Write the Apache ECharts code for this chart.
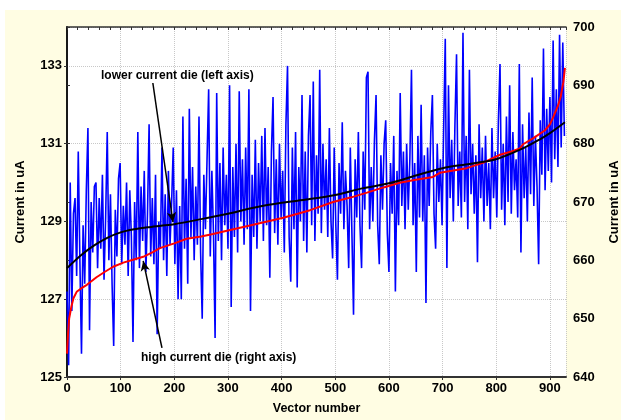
<!DOCTYPE html>
<html>
<head>
<meta charset="utf-8">
<script src="https://cdn.jsdelivr.net/npm/echarts@6/dist/echarts.min.js"></script>
<style>
  html, body { margin: 0; padding: 0; background: #fff; }
  #main { width: 621px; height: 420px; }
</style>
</head>
<body>
<div id="main"></div>
<script>
// vector number spacing of the sampled blue trace
var vectorStep = 3;
// lower current die, per vector (left axis), read every 3rd vector
var lowerDie = [
  127.2, 125.3, 130.0, 126.7, 129.2, 129.6, 127.6, 130.8, 128.0, 125.6,
  128.9, 127.4, 129.8, 131.4, 126.2, 129.5, 128.2, 129.9, 130.0, 127.8,
  129.6, 128.3, 130.2, 127.5, 129.1, 131.3, 128.0, 129.7, 127.4, 125.8,
  129.3, 128.1, 130.1, 130.5, 127.9, 129.4, 128.4, 130.0, 127.6, 129.8,
  128.6, 125.9, 129.5, 128.0, 131.3, 127.8, 129.9, 128.5, 130.3, 127.7,
  129.2, 131.5, 128.1, 129.6, 127.9, 130.2, 126.1, 129.0, 128.3, 130.9,
  128.0, 129.7, 127.6, 130.3, 128.4, 129.5, 130.9, 127.9, 129.8, 127.0,
  129.4, 127.0, 131.7, 128.3, 130.1, 127.4, 131.9, 128.6, 130.4, 128.0,
  129.9, 128.4, 131.7, 128.2, 126.5, 130.2, 128.8, 130.6, 132.4, 128.1,
  130.3, 128.7, 126.0, 132.3, 128.5, 130.5, 128.0, 130.9, 128.9, 130.2,
  128.3, 132.5, 126.8, 130.4, 128.6, 131.0, 128.2, 132.35, 129.0, 130.6,
  128.4, 130.9, 128.8, 132.4, 126.7, 130.2, 128.6, 131.1, 128.3, 130.5,
  129.0, 131.2, 128.5, 131.4, 128.9, 130.4, 127.55, 130.8, 132.2, 128.7,
  130.6, 128.4, 131.0, 129.1, 130.3, 128.2, 131.5, 133.0, 128.6, 127.45,
  130.9, 128.8, 131.3, 127.3, 130.4, 129.0, 132.25, 128.5, 130.8, 128.2,
  131.2, 132.25, 128.9, 132.6, 128.5, 130.7, 129.2, 132.9, 128.7, 131.0,
  129.3, 130.6, 128.6, 131.4, 129.0, 128.05, 130.9, 128.9, 127.5, 130.5,
  129.2, 131.55, 128.8, 130.3, 129.4, 127.8, 130.9, 128.7, 126.6, 130.6,
  129.1, 131.3, 128.9, 127.8, 130.8, 129.3, 132.7, 132.85, 128.8, 130.4,
  129.0, 131.1, 132.25, 128.9, 127.9, 130.7, 129.3, 131.0, 131.6, 128.7,
  127.7, 130.5, 129.2, 131.2, 127.2, 130.3, 128.9, 132.3, 129.4, 130.8,
  128.8, 131.0, 129.3, 130.6, 132.9, 128.9, 130.5, 127.7, 131.2, 129.1,
  132.0, 129.0, 130.7, 126.9, 130.9, 129.4, 131.3, 132.25, 129.2, 128.3,
  131.0, 129.5, 130.6, 128.9, 131.4, 133.7, 127.8, 132.5, 129.6, 131.1,
  129.0, 131.5, 133.3, 129.4, 130.8, 129.1, 133.85, 129.5, 131.2, 128.8,
  132.9, 129.7, 131.0, 129.2, 130.7, 127.95, 131.5, 129.6, 130.9, 129.0,
  131.2, 129.4, 130.5, 128.8, 131.4, 129.6, 130.8, 129.1, 131.6, 133.05,
  129.3, 131.0, 128.9, 131.7, 129.5, 132.5, 129.2, 131.3, 129.8, 130.6,
  129.1, 133.05, 128.2, 131.5, 129.6, 130.9, 129.0, 131.8, 129.7, 132.7,
  129.4, 131.2, 129.9, 127.9, 131.6, 130.2, 133.45, 129.8, 131.9, 130.3,
  132.2, 130.0, 133.65, 130.6, 132.4, 130.4, 133.8, 130.9, 133.6, 131.2
];
// lower current die, sorted curve (left axis)
var lowerSortedX = [0, 25, 50, 75, 100, 125, 150, 175, 200, 250, 300, 350, 400, 450, 500, 550, 600, 650, 700, 750, 800, 850, 880, 900, 928];
var lowerSortedY = [127.8, 128.12, 128.38, 128.58, 128.72, 128.8, 128.85, 128.89, 128.93, 129.06, 129.2, 129.36, 129.48, 129.57, 129.68, 129.85, 129.98, 130.18, 130.37, 130.48, 130.6, 130.88, 131.1, 131.27, 131.55];
// high current die, sorted curve (right axis)
var highSortedX = [0, 2, 4, 8, 12, 18, 25, 37, 55, 70, 86, 105, 123, 142, 160, 173, 200, 223, 250, 272, 300, 347, 375, 403, 430, 453, 496, 530, 559, 590, 620, 650, 682, 695, 720, 745, 775, 807, 830, 844, 850, 870, 891, 900, 906, 915, 920, 925, 928];
var highSortedY = [644, 647.5, 650, 652, 653.5, 654.6, 655.1, 655.8, 657.1, 658.0, 658.9, 659.6, 660.1, 660.6, 661.4, 662.1, 662.9, 663.7, 664.1, 664.5, 665.1, 666.1, 666.7, 667.3, 668.0, 668.6, 670.0, 670.8, 671.6, 672.5, 673.3, 673.8, 674.3, 675.0, 675.4, 675.8, 676.7, 678.1, 678.7, 679.2, 679.9, 681.0, 682.3, 683.3, 684.5, 686.5, 688.0, 690.5, 693.0];

var pairs = function (xs, ys) { return xs.map(function (x, i) { return [x, ys[i]]; }); };
var lowerData = lowerDie.map(function (v, i) { return [i * vectorStep, v]; });

var FONT = 'Arial, "Liberation Sans", sans-serif';
var boldFont = { color: '#000', fontWeight: 'bold', fontFamily: FONT };

var chart = echarts.init(document.getElementById('main'));
var option = {
  backgroundColor: '#fff',
  animation: false,
  graphic: [
    { type: 'rect', z: -10, shape: { x: 5, y: 10, width: 616, height: 410 }, style: { fill: '#FFFDE3' } },
    { type: 'text', left: 101, top: 70, z: 100, style: { text: 'lower current die (left axis)', fill: '#000', font: 'bold 12px ' + FONT } },
    { type: 'text', left: 141, top: 352, z: 100, style: { text: 'high current die (right axis)', fill: '#000', font: 'bold 12px ' + FONT } }
  ],
  grid: { left: 67, top: 27, right: 55, bottom: 43, show: true, backgroundColor: '#fff', borderWidth: 0, outerBoundsMode: 'none', containLabel: false },
  xAxis: [
    {
      type: 'value', min: 0, max: 930, interval: 100,
      name: 'Vector number', nameLocation: 'middle', nameGap: 25,
      nameTextStyle: Object.assign({ fontSize: 12.5 }, boldFont),
      axisLine: { lineStyle: { color: '#333', width: 2 } },
      axisTick: { length: 3, lineStyle: { color: '#333' } },
      axisLabel: Object.assign({ fontSize: 13, margin: 5, showMaxLabel: false }, boldFont),
      splitLine: { show: true, lineStyle: { color: '#c8c8c8', type: [1, 1] } }
    },
    {
      type: 'value', min: 0, max: 930, interval: 100, position: 'top',
      axisLine: { lineStyle: { color: '#333', width: 1.5 } },
      axisTick: { inside: true, length: 3, lineStyle: { color: '#333' } },
      minorTick: { show: true, splitNumber: 5, length: 3, lineStyle: { color: '#333' } },
      axisLabel: { show: false },
      splitLine: { show: false }
    }
  ],
  yAxis: [
    {
      type: 'value', min: 125, max: 134, interval: 2,
      name: 'Current in uA', nameLocation: 'middle', nameGap: 40, nameRotate: 90,
      nameTextStyle: Object.assign({ fontSize: 13 }, boldFont),
      axisLine: { show: true, lineStyle: { color: '#333', width: 2 } },
      axisTick: { show: true, length: 3, lineStyle: { color: '#333' } },
      axisLabel: Object.assign({ fontSize: 13, margin: 5, showMaxLabel: false }, boldFont),
      splitLine: { show: true, lineStyle: { color: '#c8c8c8', type: [1, 1] } }
    },
    {
      type: 'value', min: 640, max: 700, interval: 10, position: 'right',
      name: 'Current in uA', nameLocation: 'middle', nameGap: 42, nameRotate: 90,
      nameTextStyle: Object.assign({ fontSize: 13 }, boldFont),
      axisLine: { show: true, lineStyle: { color: '#111', width: 1.5 } },
      axisTick: { show: true, length: 3, lineStyle: { color: '#333' } },
      axisLabel: Object.assign({ fontSize: 13, margin: 7 }, boldFont),
      splitLine: { show: false }
    }
  ],
  series: [
    {
      name: 'lower current die', type: 'line', yAxisIndex: 0, data: lowerData,
      showSymbol: false, lineStyle: { color: '#0000FF', width: 1.6 }, z: 2
    },
    {
      name: 'lower sorted', type: 'line', yAxisIndex: 0, data: pairs(lowerSortedX, lowerSortedY),
      showSymbol: false, smooth: 0.3, lineStyle: { color: '#000', width: 2 }, z: 4,
      markLine: {
        silent: true, symbol: ['none', 'arrow'], symbolSize: [7, 10],
        lineStyle: { color: '#000', width: 1.5, type: 'solid' }, label: { show: false },
        data: [[{ coord: [160, 132.56] }, { coord: [197.5, 128.98] }]]
      }
    },
    {
      name: 'high sorted', type: 'line', yAxisIndex: 1, data: pairs(highSortedX, highSortedY),
      showSymbol: false, lineStyle: { color: '#FF0000', width: 2 }, z: 3,
      markLine: {
        silent: true, symbol: ['none', 'arrow'], symbolSize: [7, 10],
        lineStyle: { color: '#000', width: 1.5, type: 'solid' }, label: { show: false },
        data: [[{ coord: [177, 645.0] }, { coord: [142, 659.9] }]]
      }
    }
  ]
};
chart.setOption(option);
</script>
</body>
</html>
